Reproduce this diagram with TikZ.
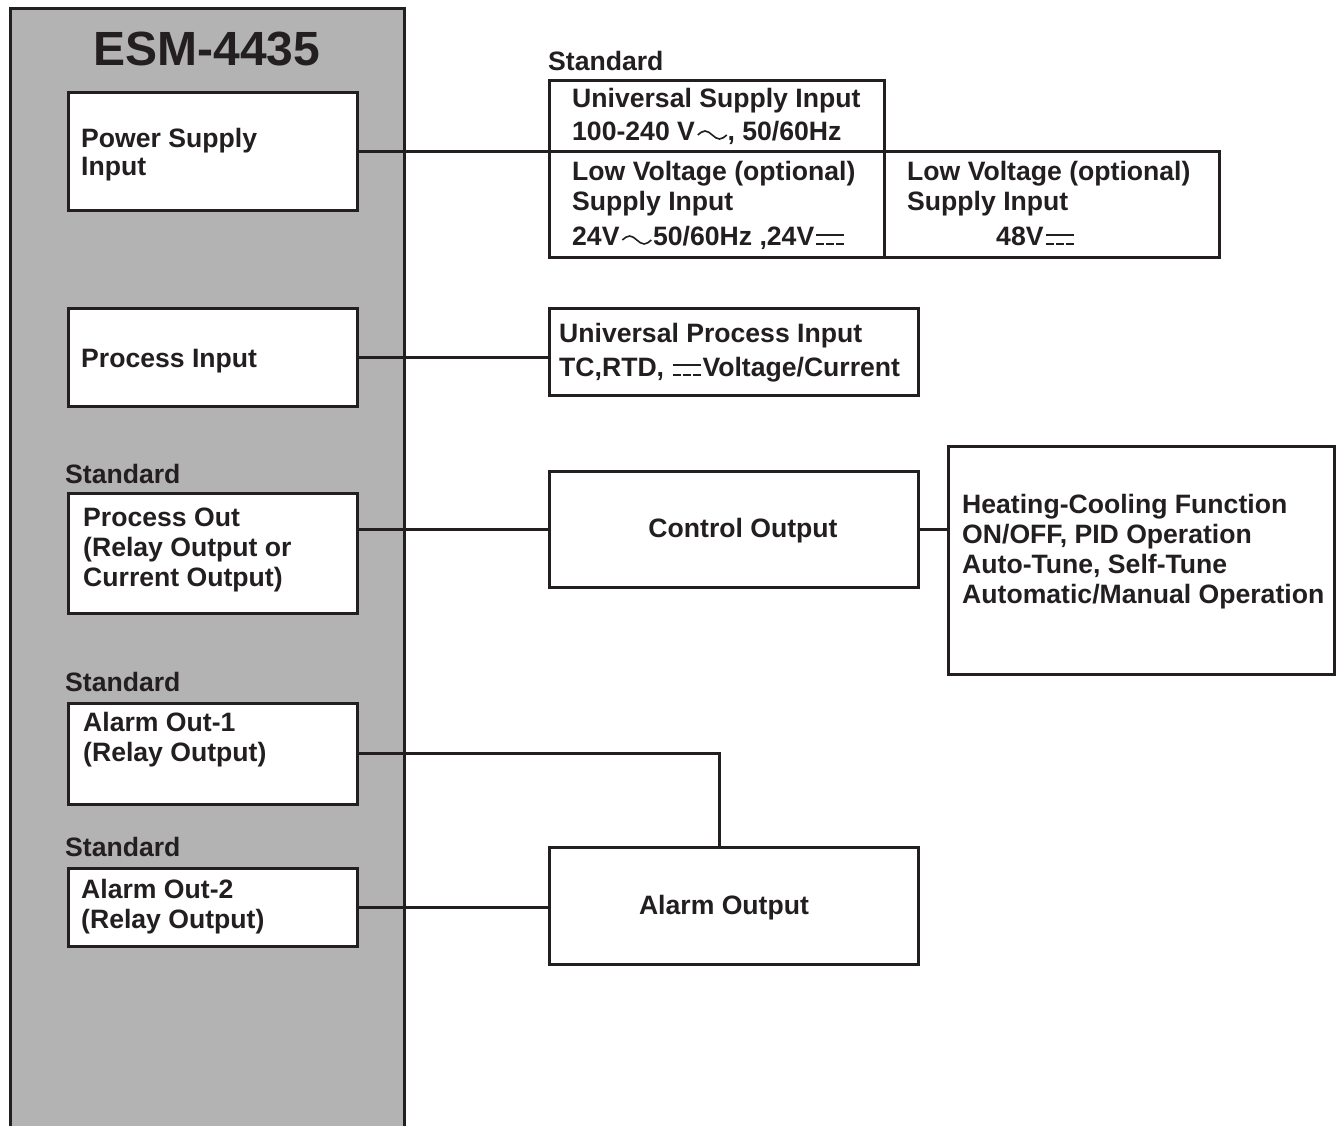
\documentclass[tikz,border=0pt]{standalone}
\usepackage{fontspec}
\setmainfont{Liberation Sans}
\usetikzlibrary{calc}
\definecolor{ink}{HTML}{231F20}
\definecolor{panelgray}{HTML}{B3B3B3}
\newcommand{\acwave}{\tikz[baseline=0pt,x=1pt,y=1pt]\draw[ink,line width=1.6pt] (0,6) sin (7.25,10) cos (14.5,6) sin (21.75,2) cos (29,6);}
\newcommand{\dcsym}{\tikz[baseline=0pt,x=1pt,y=1pt]{\draw[ink,line width=2pt] (0,11)--(28,11); \draw[ink,line width=2pt] (0,1.5)--(8,1.5) (10,1.5)--(18,1.5) (20,1.5)--(28,1.5);}}
\begin{document}
\begin{tikzpicture}[x=1pt,y=-1pt,
  panel/.style={draw=ink, line width=3pt, fill=panelgray, inner sep=0pt, outer sep=0pt, anchor=north west},
  box/.style={draw=ink, line width=3pt, fill=white, inner sep=0pt, outer sep=0pt, anchor=north west},
  lbl/.style={anchor=base west, inner sep=0pt, text=ink, font=\fontsize{26.6}{30}\selectfont\bfseries},
  clbl/.style={lbl, anchor=base},
  conn/.style={draw=ink, line width=3pt}]
\clip (0,0) rectangle (1336,1126);
\fill[white] (0,0) rectangle (1336,1126);
% main panel
\node[panel, minimum width=394pt, minimum height=1140pt] (panel) at (10,9) {};
\node[clbl, font=\fontsize{48}{52}\selectfont\bfseries] (title) at (207,66) {ESM-4435};
% inner boxes
\node[box, minimum width=289pt, minimum height=118pt] (ps) at (68,93) {};
\node[box, minimum width=289pt, minimum height=98pt] (pi) at (68,308) {};
\node[box, minimum width=289pt, minimum height=120pt] (po) at (68,493) {};
\node[box, minimum width=289pt, minimum height=101pt] (a1) at (68,703) {};
\node[box, minimum width=289pt, minimum height=78pt] (a2) at (68,868) {};
% right boxes
\node[box, minimum width=335pt, minimum height=71pt] (usi) at (549,81) {};
\node[box, minimum width=335pt, minimum height=105pt] (lv1) at (549,152) {};
\node[box, minimum width=335pt, minimum height=105pt] (lv2) at (884,152) {};
\node[box, minimum width=369pt, minimum height=87pt] (upi) at (549,308) {};
\node[box, minimum width=369pt, minimum height=116pt] (co) at (549,471) {};
\node[box, minimum width=386pt, minimum height=228pt] (hc) at (948,446) {};
\node[box, minimum width=369pt, minimum height=117pt] (ao) at (549,847) {};
\coordinate (aj) at (719,847);
% connectors
\draw[conn] (ps.east) -- (lv1.north west);
\draw[conn] (pi.east) -- (pi.east -| upi.west);
\draw[conn] (po.east |- co.west) -- (co.west);
\draw[conn] (co.east) -- (co.east -| hc.west);
\draw[conn] (a1.east) -| (aj);
\draw[conn] (a2.east) -- (a2.east -| ao.west);
% left texts
\node[lbl] (t1) at (81,147.5) {Power Supply};
\node[lbl] (t2) at (81,176) {Input};
\node[lbl] (t3) at (81,367) {Process Input};
\node[lbl] (s1) at (65,483) {Standard};
\node[lbl] (t4) at (83,526) {Process Out};
\node[lbl] (t5) at (83,556) {(Relay Output or};
\node[lbl] (t6) at (83,586) {Current Output)};
\node[lbl] (s2) at (65,691) {Standard};
\node[lbl] (t7) at (83,731) {Alarm Out-1};
\node[lbl] (t8) at (83,761) {(Relay Output)};
\node[lbl] (s3) at (65,856) {Standard};
\node[lbl] (t9) at (81,898) {Alarm Out-2};
\node[lbl] (t10) at (81,928) {(Relay Output)};
% right texts
\node[lbl] (s4) at (548,71) {Standard};
\node[lbl] (u1) at (572,108) {Universal Supply Input};
\node[lbl] (u2) at (572,141) {100-240 V\hspace{2pt}\acwave, 50/60Hz};
\node[lbl] (l1) at (572,181) {Low Voltage (optional)};
\node[lbl] (l2) at (572,211) {Supply Input};
\node[lbl] (l3) at (572,246) {24V\hspace{2pt}\acwave\hspace{1pt}50/60Hz ,24V\hspace{1pt}\dcsym};
\node[lbl] (m1) at (907,181) {Low Voltage (optional)};
\node[lbl] (m2) at (907,211) {Supply Input};
\node[lbl] (m3) at (996,246) {48V\hspace{1pt}\dcsym};
\node[lbl] (p1) at (559,342) {Universal Process Input};
\node[lbl] (p2) at (559,376) {TC,RTD, \dcsym\hspace{1pt}Voltage/Current};
\node[clbl] (c1) at (743,537) {Control Output};
\node[lbl] (h1) at (962,513) {Heating-Cooling Function};
\node[lbl] (h2) at (962,543) {ON/OFF, PID Operation};
\node[lbl] (h3) at (962,573) {Auto-Tune, Self-Tune};
\node[lbl] (h4) at (962,603) {Automatic/Manual Operation};
\node[clbl] (ao1) at (724,914) {Alarm Output};
\end{tikzpicture}
\end{document}
